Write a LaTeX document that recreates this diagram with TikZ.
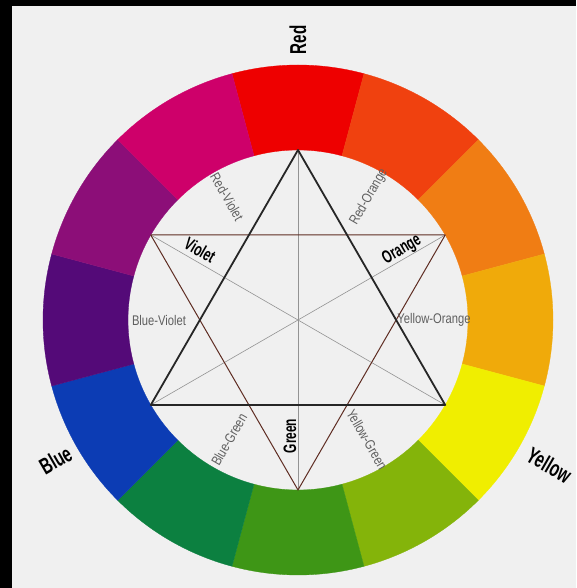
\documentclass[tikz,border=0pt]{standalone}
\usepackage{graphicx}
\usepackage{fontspec}
\newfontfamily\headfont{Liberation Sans}
\newfontfamily\tintfont{Liberation Sans}
\newcommand{\slimtext}[2]{\scalebox{#1}[1]{#2}}

\definecolor{paper}{RGB}{240,240,240}
\definecolor{tintgray}{RGB}{95,95,95}
\definecolor{triangbrown}{RGB}{95,45,35}
\definecolor{cRed}{RGB}{238,0,0}
\definecolor{cRedOrange}{RGB}{240,65,15}
\definecolor{cOrange}{RGB}{240,125,20}
\definecolor{cYellowOrange}{RGB}{240,170,10}
\definecolor{cYellow}{RGB}{240,238,0}
\definecolor{cYellowGreen}{RGB}{132,180,10}
\definecolor{cGreen}{RGB}{62,150,22}
\definecolor{cBlueGreen}{RGB}{12,128,64}
\definecolor{cBlue}{RGB}{12,60,180}
\definecolor{cBlueViolet}{RGB}{84,10,120}
\definecolor{cViolet}{RGB}{140,14,120}
\definecolor{cRedViolet}{RGB}{206,0,106}

\begin{document}
\begin{tikzpicture}[x=1pt,y=1pt]
        \tikzset{
            primary/.style={font=\headfont\bfseries\fontsize{23}{23}\selectfont, inner sep=0pt},
            secondary/.style={font=\headfont\bfseries\fontsize{18}{18}\selectfont, inner sep=0pt},
            tertiary/.style={font=\tintfont\fontsize{14}{14}\selectfont, text=tintgray, inner sep=0pt},
            bigtri/.style={draw=black!85, line width=1.8pt, line join=round},
            smalltri/.style={draw=triangbrown, line width=1pt, line join=round},
            axis/.style={draw=gray!85, line width=0.6pt}
        }

        % Background
        \fill[black] (-298,-268) rectangle (278,320);
        \fill[paper] (-286,-268) rectangle (278,314);
        \useasboundingbox (-298,-268) rectangle (278,320);

        % Wheel
        \foreach \ang/\col in {90/cRed, 60/cRedOrange, 30/cOrange, 0/cYellowOrange,
                               -30/cYellow, -60/cYellowGreen, -90/cGreen, -120/cBlueGreen,
                               -150/cBlue, -180/cBlueViolet, -210/cViolet, -240/cRedViolet}
            \filldraw[fill=\col, draw=\col, line width=0.3pt]
                ({\ang-15}:170) -- ({\ang-15}:255)
                arc[start angle=\ang-15, end angle=\ang+15, radius=255]
                -- ({\ang+15}:170)
                arc[start angle=\ang+15, end angle=\ang-15, radius=170] -- cycle;

        % Nodes
        \coordinate (red) at (90:170);
        \coordinate (orange) at (30:170);
        \coordinate (yellow) at (-30:170);
        \coordinate (green) at (-90:170);
        \coordinate (blue) at (-150:170);
        \coordinate (violet) at (150:170);

        % Edges
        \draw[axis] (red) -- (green);
        \draw[axis] (violet) -- (yellow);
        \draw[axis] (orange) -- (blue);
        \draw[smalltri] (violet) -- (orange) -- (green) -- cycle;
        \draw[bigtri] (red) -- (yellow) -- (blue) -- cycle;

        % Labels
        \node[primary, rotate=90] (redlbl) at (90:280) {\slimtext{0.66}{Red}};
        \node[primary, rotate=30] (bluelbl) at (210:280) {\slimtext{0.66}{Blue}};
        \node[primary, rotate=-30] (yellowlbl) at (-30:290) {\slimtext{0.66}{Yellow}};
        \node[secondary, rotate=-30] (violetlbl) at (-98,70) {\slimtext{0.66}{Violet}};
        \node[secondary, rotate=30] (orangelbl) at (104,70) {\slimtext{0.66}{Orange}};
        \node[secondary, rotate=90] (greenlbl) at (-8,-116) {\slimtext{0.66}{Green}};
        \node[tertiary, rotate=-60] (rvlbl) at (120:142) {\slimtext{0.8}{Red-Violet}};
        \node[tertiary, rotate=60] (rolbl) at (60:142) {\slimtext{0.8}{Red-Orange}};
        \node[tertiary] (bvlbl) at (180:139) {\slimtext{0.8}{Blue-Violet}};
        \node[tertiary] (yolbl) at (0:136) {\slimtext{0.8}{Yellow-Orange}};
        \node[tertiary, rotate=60] (bglbl) at (240:138) {\slimtext{0.8}{Blue-Green}};
        \node[tertiary, rotate=-60] (yglbl) at (300:138) {\slimtext{0.8}{Yellow-Green}};
    \end{tikzpicture}
\end{document}
